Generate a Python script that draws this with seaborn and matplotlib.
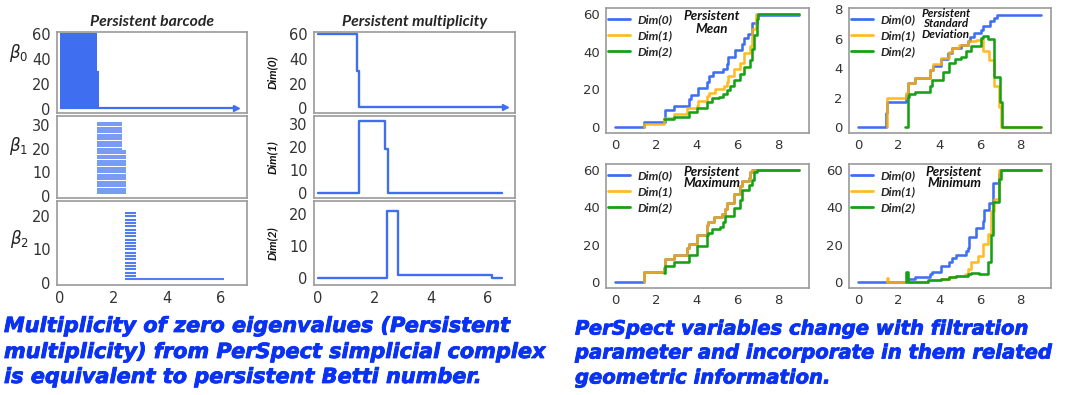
import numpy as np
import pandas as pd
import matplotlib
matplotlib.use("Agg")
import matplotlib.pyplot as plt
import matplotlib.patheffects as pe
import seaborn as sns

# ---------------- data ----------------
# Persistent barcode: (birth, death, count) groups, stacked bottom-up
b0_birth = [0.0, 0.0, 0.0]
b0_death = [6.6, 1.47, 1.39]
b0_count = [1, 29, 30]
b1_birth = [1.41, 1.41]
b1_death = [2.48, 2.34]
b1_count = [19, 12]
b2_birth = [2.45, 2.45]
b2_death = [6.15, 2.85]
b2_count = [1, 20]

# Persistent multiplicity (step functions)
mult0_x = [0, 1.39, 1.46, 6.6]
mult0_y = [60, 30, 1, 1]
mult1_x = [0, 1.45, 2.36, 2.47, 6.5]
mult1_y = [0, 31, 19, 0, 0]
mult2_x = [0, 2.45, 2.83, 6.15, 6.5]
mult2_y = [0, 21, 1, 0, 0]

# Persistent Mean
mean0_x = [0, 1.39, 2.45, 2.86, 3.6, 3.7, 4.08, 4.5, 4.6, 4.8, 5.3, 5.47, 5.55, 5.88, 6.2, 6.3, 6.53, 6.7, 6.94, 9.0]
mean0_y = [0, 3, 9, 11, 15, 17, 21, 24, 27, 29, 31, 33.5, 37, 41, 44, 47, 49.5, 55, 59.3, 59.3]
mean1_x = [1.4, 1.4, 2.37, 2.86, 3.51, 4.0, 4.08, 4.49, 4.6, 4.9, 5.31, 5.47, 5.55, 5.8, 6.13, 6.29, 6.62, 6.73, 6.9, 9.0]
mean1_y = [0, 2, 5, 7, 10, 11.4, 14, 16.7, 18, 20, 22, 24, 27, 31, 34, 39, 43, 52, 60, 60]
mean2_x = [2.37, 2.86, 3.6, 4.0, 4.5, 4.74, 5.07, 5.3, 5.47, 5.64, 5.83, 6.13, 6.3, 6.62, 6.7, 6.78, 6.94, 7.02, 9.0]
mean2_y = [4.5, 5.5, 8, 10, 13.5, 15.6, 16, 17.6, 19.7, 22, 25, 28, 32, 35.7, 41.5, 49, 57, 60, 60]

# Persistent Standard Deviation
std0_x = [0, 1.35, 1.42, 2.35, 2.45, 2.8, 3.54, 3.7, 4.07, 4.43, 4.6, 5.08, 5.4, 5.5, 5.73, 6.05, 6.15, 6.5, 6.7, 6.85, 9.0]
std0_y = [0, 1.0, 1.73, 2.2, 3.0, 3.37, 3.9, 4.17, 4.62, 5.03, 5.38, 5.6, 5.83, 6.1, 6.4, 6.63, 6.9, 7.2, 7.43, 7.65, 7.65]
std1_x = [1.4, 1.4, 2.35, 2.45, 2.8, 3.54, 3.7, 4.07, 4.5, 4.6, 4.95, 5.4, 5.8, 6.13, 6.46, 6.7, 6.95, 7.06, 9.0]
std1_y = [0, 1.96, 2.3, 3.0, 3.37, 3.9, 4.28, 4.7, 5.1, 5.38, 5.6, 5.83, 5.95, 5.15, 4.58, 2.8, 1.4, 0, 0]
std2_x = [2.29, 2.45, 2.5, 2.8, 3.54, 3.65, 4.2, 4.5, 4.75, 5.08, 5.3, 5.57, 6.05, 6.15, 6.38, 6.7, 6.98, 7.08, 9.0]
std2_y = [0, 2.07, 2.23, 2.4, 2.8, 3.2, 3.78, 4.35, 4.62, 4.8, 5.15, 5.5, 6.06, 6.2, 6.0, 3.4, 1.7, 0, 0]

# Persistent Maximum
max0_x = [0, 1.4, 2.37, 2.45, 2.86, 3.51, 3.6, 4.0, 4.49, 4.57, 4.82, 5.23, 5.4, 5.47, 5.8, 6.13, 6.2, 6.54, 6.62, 6.73, 9.0]
max0_y = [0, 5.6, 7.4, 12.4, 14.5, 18.5, 20.6, 25, 30.4, 32, 34.8, 36.2, 38.8, 42.4, 47, 51.5, 53.8, 55.6, 58.6, 60, 60]
max1_x = [1.4, 1.4, 2.37, 2.45, 2.86, 3.51, 3.6, 4.0, 4.49, 4.57, 4.82, 5.23, 5.4, 5.47, 5.8, 6.13, 6.2, 6.54, 6.62, 6.73, 9.0]
max1_y = [0, 5.6, 7.4, 12.4, 14.5, 18.5, 20.6, 25, 30.4, 32, 34.8, 36.2, 38.8, 42.4, 47, 51.5, 53.8, 55.6, 58.6, 60, 60]
max2_x = [2.37, 2.45, 2.86, 3.6, 4.0, 4.49, 4.57, 4.74, 5.15, 5.3, 5.4, 5.8, 6.13, 6.2, 6.54, 6.7, 6.78, 6.94, 9.0]
max2_y = [4.8, 8.5, 10.6, 14.5, 19.4, 25, 26.5, 28.6, 29.5, 32, 35.3, 39.7, 44, 49, 52, 54.7, 58.6, 60, 60]

# Persistent Minimum
min0_x = [0, 1.4, 2.45, 2.8, 3.54, 3.65, 4.07, 4.5, 4.6, 4.84, 5.3, 5.4, 5.45, 5.8, 6.14, 6.22, 6.46, 6.62, 6.95, 7.0, 9.0]
min0_y = [0, 0.35, 1.8, 2.6, 4.4, 5.6, 8.5, 10.9, 13.2, 14.5, 16.8, 18.5, 24.4, 29.1, 32.6, 38.3, 42, 53, 57.7, 60, 60]
min1_x = [1.4, 1.4, 1.48, 3.45, 4.1, 4.5, 4.8, 5.25, 5.4, 5.57, 5.9, 6.14, 6.38, 6.54, 6.7, 6.95, 7.05, 9.0]
min1_y = [0, 2.1, 0.35, 1.0, 1.8, 2.6, 3.5, 4.4, 7, 10.6, 13.8, 20.3, 25.6, 38, 44.5, 59.6, 60, 60]
min2_x = [2.35, 2.35, 2.45, 3.45, 4.1, 4.5, 4.8, 5.4, 5.57, 5.97, 6.38, 6.54, 6.62, 6.95, 7.02, 9.0]
min2_y = [0, 5.3, 0.35, 1.0, 1.8, 2.6, 3.2, 4.4, 5.0, 4.4, 11, 25, 43, 55, 60, 60]

dim_labels = ["Dim(0)", "Dim(1)", "Dim(2)"]
beta_labels = [r"$\beta_0$", r"$\beta_1$", r"$\beta_2$"]
panel_titles = ["Persistent\nMean", "Persistent\nStandard\nDeviation", "Persistent\nMaximum", "Persistent\nMinimum"]
caption_left = ["Multiplicity of zero eigenvalues (Persistent",
                "multiplicity) from PerSpect simplicial complex",
                "is equivalent to persistent Betti number."]
caption_right = ["PerSpect variables change with filtration",
                 "parameter and incorporate in them related",
                 "geometric information."]

# ---------------- style ----------------
sns.set_theme(style="white")
plt.rcParams["font.family"] = ["DejaVu Sans"]
BLUE = "#3f6ff0"
ORANGE = "#ffb000"
GREEN = "#16a016"
CAP_BLUE = "#0a32f5"
SPINE = "#9a9a9a"
TICK = "#333333"
TFONT = ["Lato", "DejaVu Sans"]

W, H = 1080, 395
fig = plt.figure(figsize=(W / 100, H / 100), dpi=100)


def ax_px(l, t, r, b):
    return fig.add_axes([l / W, 1 - b / H, (r - l) / W, (b - t) / H])


def style_ax(ax, fs):
    for s in ax.spines.values():
        s.set_color(SPINE)
        s.set_linewidth(1.2)
    ax.tick_params(axis="both", which="both", length=3, width=0.8, color=SPINE,
                   labelsize=fs, labelcolor=TICK, pad=1.5, direction="out")
    ax.set_xlabel("")


rows = [(32, 113), (116, 198), (201, 285)]

# ---- barcode panels ----
bar_sets = [(b0_birth, b0_death, b0_count), (b1_birth, b1_death, b1_count), (b2_birth, b2_death, b2_count)]
bar_ylims = [(-3, 62), (-1, 34), (-0.7, 24.6)]
bar_yticks = [[0, 20, 40, 60], [0, 10, 20, 30], [0, 10, 20]]
bar_lw = [1.6, 1.1, 1.5]
for i, ((bb, dd, cc), (t, b)) in enumerate(zip(bar_sets, rows)):
    ax = ax_px(57, t, 247, b)
    births = np.repeat(bb, cc)
    deaths = np.repeat(dd, cc)
    levels = np.arange(1, len(births) + 1)
    ax.hlines(levels, births, deaths, color=BLUE, lw=bar_lw[i], alpha=0.9 if i else 1.0)
    if i == 0:
        ax.hlines(levels[0], births[0], deaths[0], color=BLUE, lw=1.1)
        ax.plot(deaths[0], levels[0], marker=">", ms=4, color=BLUE, mec=BLUE)
    ax.set_xlim(-0.1, 7.0)
    ax.set_ylim(*bar_ylims[i])
    ax.set_xticks([0, 2, 4, 6])
    ax.set_yticks(bar_yticks[i])
    style_ax(ax, 10.5)
    if i < 2:
        ax.tick_params(axis="x", labelbottom=False)
    ax.set_ylabel(beta_labels[i], rotation=0, fontsize=12, color="#222222")
    ax.yaxis.set_label_coords(-0.2, [0.6, 0.5, 0.42][i])
    if i == 0:
        ax.set_title("Persistent barcode", fontsize=11.3, fontweight="bold",
                     fontstyle="italic", family=TFONT, pad=4)

# ---- multiplicity panels ----
mults = [(mult0_x, mult0_y), (mult1_x, mult1_y), (mult2_x, mult2_y)]
mult_ylims = [(-3.8, 61.9), (-2, 33.3), (-2.1, 24.2)]
for i, ((mx, my), (t, b)) in enumerate(zip(mults, rows)):
    ax = ax_px(314, t, 515, b)
    df = pd.DataFrame({"x": mx, "y": my})
    sns.lineplot(data=df, x="x", y="y", ax=ax, color=BLUE, lw=1.7,
                 drawstyle="steps-post", estimator=None, sort=False)
    if i == 0:
        ax.plot(mx[-1], my[-1], marker=">", ms=4, color=BLUE, mec=BLUE)
    ax.set_xlim(-0.14, 6.97)
    ax.set_ylim(*mult_ylims[i])
    ax.set_xticks([0, 2, 4, 6])
    ax.set_yticks(bar_yticks[i])
    style_ax(ax, 10.5)
    if i < 2:
        ax.tick_params(axis="x", labelbottom=False)
    ax.set_ylabel(dim_labels[i], fontsize=8.5, fontweight="bold", fontstyle="italic",
                  family=TFONT, color="#111111")
    ax.yaxis.set_label_coords(-0.18, 0.5)
    if i == 0:
        ax.set_title("Persistent multiplicity", fontsize=11.3, fontweight="bold",
                     fontstyle="italic", family=TFONT, pad=4)

# ---- PerSpect variable panels ----
panels = [
    ((606, 8, 809, 133), [(mean0_x, mean0_y), (mean1_x, mean1_y), (mean2_x, mean2_y)], (-3, 63), [0, 20, 40, 60], (0.52, 0.985), 9.6, 1.1),
    ((849, 8, 1051, 133), [(std0_x, std0_y), (std1_x, std1_y), (std2_x, std2_y)], (-0.385, 8.1), [0, 2, 4, 6, 8], (0.48, 1.0), 8.4, 0.92),
    ((606, 164, 809, 288), [(max0_x, max0_y), (max1_x, max1_y), (max2_x, max2_y)], (-3, 63), [0, 20, 40, 60], (0.52, 0.985), 9.6, 0.95),
    ((849, 164, 1051, 288), [(min0_x, min0_y), (min1_x, min1_y), (min2_x, min2_y)], (-3, 63), [0, 20, 40, 60], (0.52, 0.985), 9.6, 0.95),
]
colors = [BLUE, ORANGE, GREEN]
for p, (box, series, ylim, yt, tpos, tfs, tls) in enumerate(panels):
    ax = ax_px(*box)
    for k, (sx, sy) in enumerate(series):
        df = pd.DataFrame({"x": sx, "y": sy})
        sns.lineplot(data=df, x="x", y="y", ax=ax, color=colors[k], lw=1.85,
                     drawstyle="steps-post", estimator=None, sort=False,
                     label=dim_labels[k], alpha=0.85 if k == 1 else 1.0)
    ax.set_xlim(-0.45, 9.5)
    ax.set_ylim(*ylim)
    ax.set_xticks([0, 2, 4, 6, 8])
    ax.set_yticks(yt)
    style_ax(ax, 9.5)
    ax.set_ylabel("")
    leg = ax.legend(loc="upper left", frameon=False, handlelength=1.8,
                    handletextpad=0.6, labelspacing=0.4, borderaxespad=0.0,
                    borderpad=0.2, bbox_to_anchor=(0.0, 0.97),
                    prop={"weight": "bold", "style": "italic", "size": 8.8, "family": TFONT})
    for lh in leg.get_lines():
        lh.set_linewidth(2.0)
    ax.text(tpos[0], tpos[1], panel_titles[p], transform=ax.transAxes, ha="center", va="top",
            fontsize=tfs, fontweight="bold", fontstyle="italic",
            family=TFONT, linespacing=tls, color="#111111")

# ---- captions ----
stroke = [pe.withStroke(linewidth=0.6, foreground=CAP_BLUE)]
for yy, line in zip([326, 352, 377], caption_left):
    fig.text(4 / W, 1 - yy / H, line, ha="left", va="center", fontsize=15,
             fontweight="bold", fontstyle="italic", color=CAP_BLUE, path_effects=stroke)
for yy, line in zip([329, 353, 378], caption_right):
    fig.text(575 / W, 1 - yy / H, line, ha="left", va="center", fontsize=14.1,
             fontweight="bold", fontstyle="italic", color=CAP_BLUE, path_effects=stroke)

fig.savefig("out.png", dpi=100)
